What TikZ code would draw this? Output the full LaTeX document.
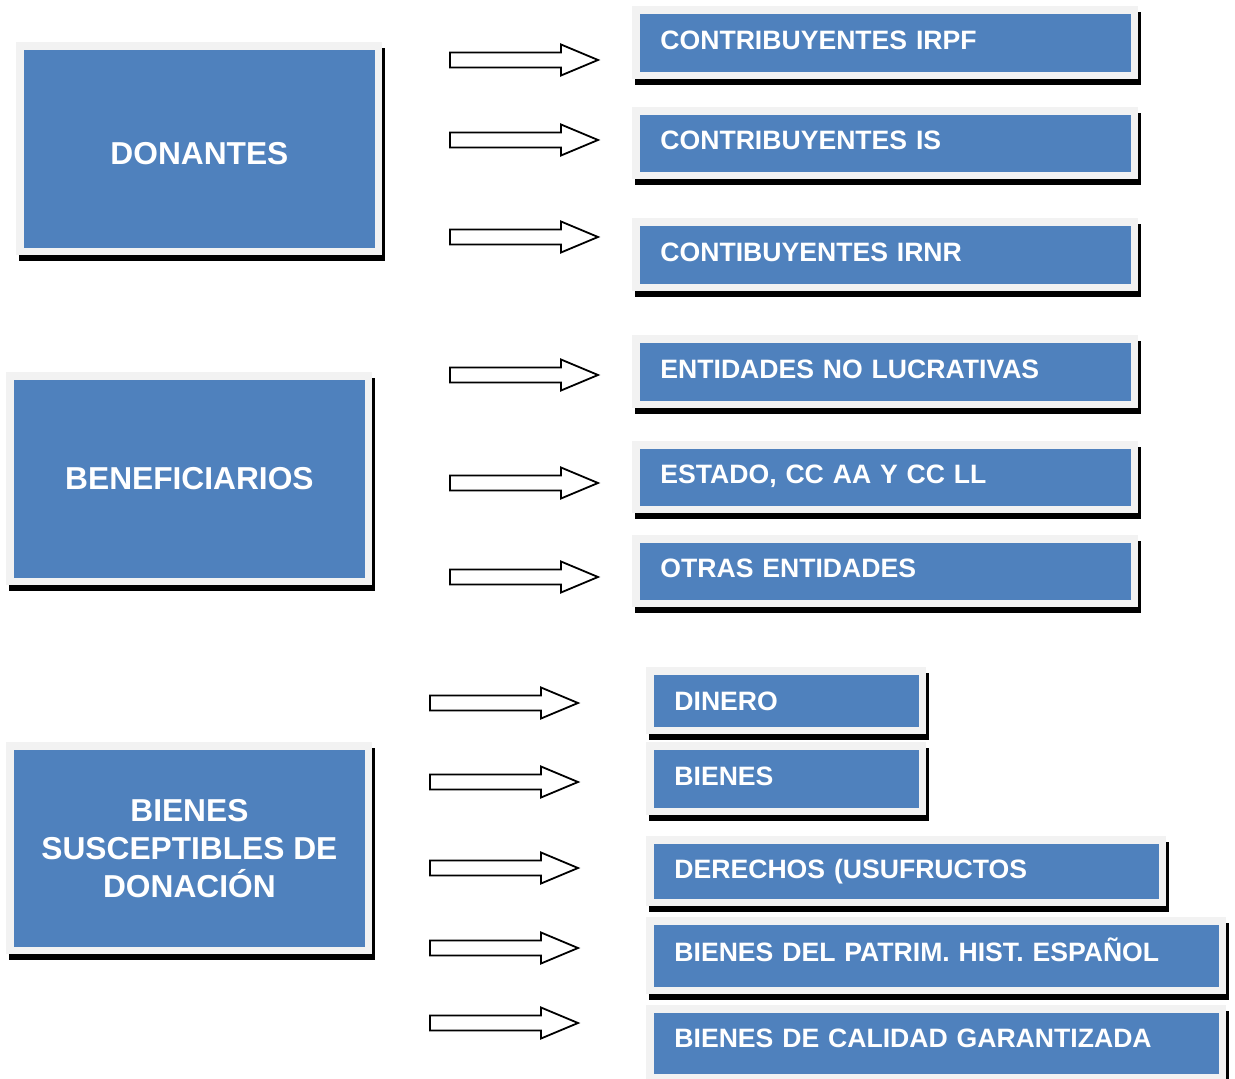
\documentclass[tikz,border=0pt]{standalone}
\usepackage{fontspec}
\setmainfont{Liberation Sans}
\usepackage{xcolor}
\usepackage{tikz}
\usetikzlibrary{shadows}
\definecolor{boxblue}{HTML}{4F81BD}
\definecolor{framegray}{HTML}{F2F2F2}

\begin{document}
\begin{tikzpicture}[x=0.5pt,y=-0.5pt,
		box/.style={rectangle,fill=framegray,inner sep=0pt,text=white,anchor=north west,
			drop shadow={shadow xshift=1.5pt,shadow yshift=-3pt,fill=black,opacity=1},
			path picture={\fill[boxblue] ([shift={(3.75pt,-3.75pt)}]path picture bounding box.north west) rectangle ([shift={(-3.75pt,3.75pt)}]path picture bounding box.south east);}},
		mainbox/.style={box,minimum width=183pt,align=center,font=\bfseries\fontsize{15.85}{19}\selectfont},
		itembox/.style={box,text width=#1,inner xsep=14pt,align=left,text depth=3pt,font=\bfseries\fontsize{13.3}{16}\selectfont},
		blockarrow/.pic={\draw[line width=0.9pt,fill=white] (0,-7.5)--(111,-7.5)--(111,-15.5)--(148,0)--(111,15.5)--(111,7.5)--(0,7.5)--cycle;}]
		\useasboundingbox (0,0) rectangle (1235,1079);
		% cuadros principales
		\node[mainbox,minimum height=106.5pt,text height=15.4pt] (donantes) at (16,42) {DONANTES};
		\node[mainbox,minimum height=106.5pt] (beneficiarios) at (6,372) {BENEFICIARIOS};
		\node[mainbox,minimum height=106pt] (bienes) at (6,742) {BIENES\\SUSCEPTIBLES DE\\DONACIÓN};
		% flechas
		\pic (f1) at (450,60) {blockarrow};
		\pic (f2) at (450,140) {blockarrow};
		\pic (f3) at (450,237) {blockarrow};
		\pic (f4) at (450,375) {blockarrow};
		\pic (f5) at (450,483) {blockarrow};
		\pic (f6) at (450,577) {blockarrow};
		\pic (f7) at (430,703) {blockarrow};
		\pic (f8) at (430,782) {blockarrow};
		\pic (f9) at (430,868) {blockarrow};
		\pic (f10) at (430,948) {blockarrow};
		\pic (f11) at (430,1023) {blockarrow};
		% cuadros de la derecha
		\node[itembox=225pt,minimum height=36.5pt] (irpf) at (632,6) {CONTRIBUYENTES IRPF};
		\node[itembox=225pt,minimum height=36pt] (is) at (632,107) {CONTRIBUYENTES IS};
		\node[itembox=225pt,minimum height=36.5pt] (irnr) at (632,218) {CONTIBUYENTES IRNR};
		\node[itembox=225pt,minimum height=36.5pt] (lucrativas) at (632,335) {ENTIDADES NO LUCRATIVAS};
		\node[itembox=225pt,minimum height=36pt] (estado) at (632,441) {ESTADO, CC AA Y CC LL};
		\node[itembox=225pt,minimum height=36pt] (otras) at (632,535) {OTRAS ENTIDADES};
		\node[itembox=112pt,minimum height=33.5pt,text depth=0pt] (dinero) at (646,667) {DINERO};
		\node[itembox=112pt,minimum height=36.5pt] (bienesb) at (646,742) {BIENES};
		\node[itembox=232pt,minimum height=35pt] (derechos) at (646,836) {DERECHOS (USUFRUCTOS};
		\node[itembox=262pt,minimum height=38.5pt,text depth=6pt] (patrim) at (646,917) {BIENES DEL PATRIM. HIST. ESPAÑOL};
		\node[itembox=262pt,minimum height=38pt,text depth=5pt] (calidad) at (646,1005) {BIENES DE CALIDAD GARANTIZADA};
	\end{tikzpicture}
\end{document}
